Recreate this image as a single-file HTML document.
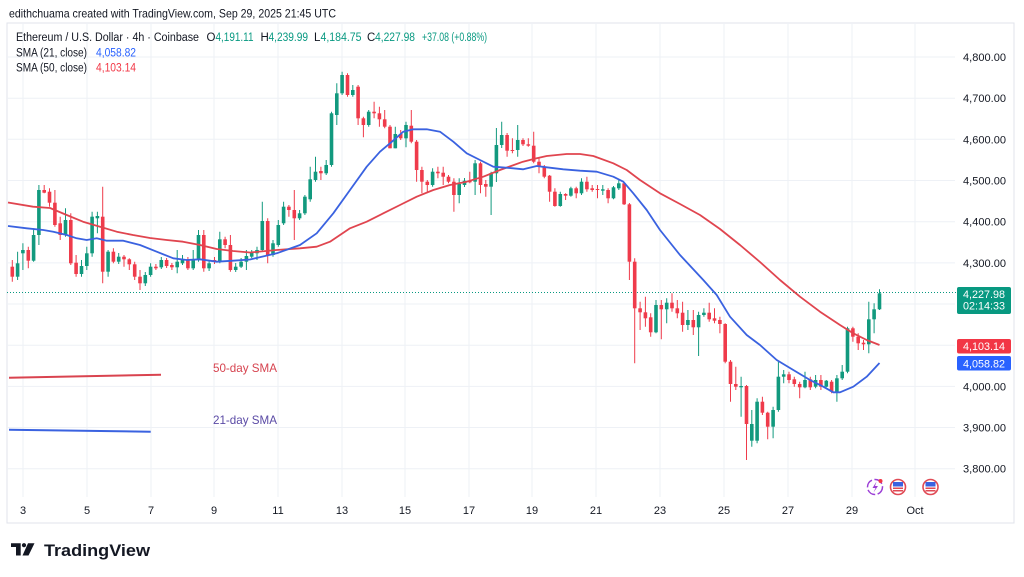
<!DOCTYPE html>
<html><head><meta charset="utf-8"><style>
html,body{margin:0;padding:0;background:#fff;}
svg{display:block;font-family:"Liberation Sans",Arial,sans-serif;}
</style></head><body>
<svg width="1024" height="577" viewBox="0 0 1024 577" xmlns="http://www.w3.org/2000/svg">
<rect width="1024" height="577" fill="#fff"/>
<text x="9" y="17.5" font-size="12" fill="#131722" textLength="327" lengthAdjust="spacingAndGlyphs">edithchuama created with TradingView.com, Sep 29, 2025 21:45 UTC</text>
<rect x="7" y="23" width="1007" height="500" fill="#fff" stroke="#e0e3eb" stroke-width="1"/>
<g stroke="#eef1f6" stroke-width="1">
<path d="M7 57H955M7 98.2H955M7 139.3H955M7 180.5H955M7 221.7H955M7 262.9H955M7 304H955M7 345.2H955M7 386.4H955M7 427.5H955M7 468.7H955"/>
<path d="M23 23V497M87 23V497M151 23V497M214 23V497M278 23V497M342 23V497M405 23V497M469 23V497M532 23V497M596 23V497M660 23V497M724 23V497M788 23V497M852 23V497M915 23V497"/>
</g>
<line x1="7" y1="292.5" x2="957" y2="292.5" stroke="#089981" stroke-width="1" stroke-dasharray="1 2"/>
<g stroke="#12997e" stroke-width="1" fill="none">
<path d="M17.6 251.7V280M22.9 243.3V270M33.6 228.3V261.7M38.9 185V245M65.5 208.3V236.7M81.5 260V276.7M86.8 246.7V270M92.1 211.7V256.7M97.4 211.7V233.3M108.1 250V276.7M118.7 253V264M145.3 272V286M150.6 263.3V276.7M161.3 257V269M177.2 250V273.3M182.5 255V265M193.2 250V270M198.5 230V261.7M209.1 260V271M219.8 231.7V263.3M235.7 263V272M241.1 258V268M246.4 250V270M251.7 250V258M257 246.7V260M262.3 201.7V251.7M273 240V256.7M278.3 220V246.7M283.6 201.7V225M299.6 210V220M304.9 195V215M310.2 166.7V201.7M315.5 156.7V181.7M326.2 160V175M331.5 111.7V166.7M336.8 83.3V125M342.1 71.7V95M352.8 85V96.7M368.7 110V126.7M395.3 126.7V148.3M406 121.7V147.3M432.6 168.3V186.7M459.2 178.3V203.3M464.5 178V187M475.1 160V195M491.1 171.7V215M496.4 128V182M501.7 121.7V148M517.7 125V156.7M560.3 191.7V206.7M570.9 186.7V196.7M581.5 178.3V195M602.8 185V195M613.5 186V199.3M618.8 180V190M656 300V333.3M666.7 298.3V323.3M687.9 310V330M698.6 311.7V356M703.9 308.3V316.7M741.1 376.7V416.7M751.8 410V446.7M757.1 398.3V443.3M773.1 406.7V438.3M778.4 361.7V411.7M783.7 370V383.3M805 371.7V388.3M815.6 375V388.3M826.3 380V387.3M836.9 375V401.7M842.2 365V380M847.5 326.7V373.3M868.8 301.7V353.3M874.1 303.3V333.3M879.5 289.3V310"/>
</g>
<g fill="#12997e">
<rect x="15.8" y="263.3" width="3.6" height="13.4"/><rect x="21.1" y="250" width="3.6" height="3.3"/><rect x="31.8" y="235" width="3.6" height="25.7"/><rect x="37.1" y="190" width="3.6" height="45"/><rect x="63.7" y="220" width="3.6" height="15"/><rect x="79.7" y="266" width="3.6" height="8"/><rect x="85" y="253.3" width="3.6" height="12.7"/><rect x="90.3" y="216.7" width="3.6" height="36.6"/><rect x="95.6" y="216" width="3.6" height="2.3"/><rect x="106.3" y="251.7" width="3.6" height="20"/><rect x="116.9" y="256.7" width="3.6" height="5"/><rect x="143.5" y="275" width="3.6" height="8.3"/><rect x="148.8" y="266.7" width="3.6" height="8.3"/><rect x="159.5" y="260" width="3.6" height="7.3"/><rect x="175.4" y="261.7" width="3.6" height="5.6"/><rect x="180.7" y="259.3" width="3.6" height="4"/><rect x="191.4" y="259.3" width="3.6" height="9"/><rect x="196.7" y="235" width="3.6" height="25"/><rect x="207.3" y="263.3" width="3.6" height="5"/><rect x="218" y="239.3" width="3.6" height="22.4"/><rect x="233.9" y="266.7" width="3.6" height="3.3"/><rect x="239.3" y="261.7" width="3.6" height="5"/><rect x="244.6" y="256" width="3.6" height="5.7"/><rect x="249.9" y="252.7" width="3.6" height="4"/><rect x="255.2" y="250" width="3.6" height="3.3"/><rect x="260.5" y="221" width="3.6" height="29"/><rect x="271.2" y="243.3" width="3.6" height="11.7"/><rect x="276.5" y="225" width="3.6" height="20"/><rect x="281.8" y="206.7" width="3.6" height="16.6"/><rect x="297.8" y="213.3" width="3.6" height="5"/><rect x="303.1" y="196.7" width="3.6" height="16.6"/><rect x="308.4" y="179.3" width="3.6" height="20"/><rect x="313.7" y="171.7" width="3.6" height="8.3"/><rect x="324.4" y="165" width="3.6" height="8.3"/><rect x="329.7" y="113.3" width="3.6" height="51.7"/><rect x="335" y="93.3" width="3.6" height="21.7"/><rect x="340.3" y="75" width="3.6" height="18.3"/><rect x="351" y="90" width="3.6" height="5"/><rect x="366.9" y="111.7" width="3.6" height="13.3"/><rect x="393.5" y="134" width="3.6" height="14.3"/><rect x="404.2" y="125" width="3.6" height="13.3"/><rect x="430.8" y="171.7" width="3.6" height="13.3"/><rect x="457.4" y="184" width="3.6" height="11"/><rect x="462.7" y="180.7" width="3.6" height="4.3"/><rect x="473.3" y="163.3" width="3.6" height="18.4"/><rect x="489.3" y="173.3" width="3.6" height="13.4"/><rect x="494.6" y="145" width="3.6" height="28.3"/><rect x="499.9" y="135" width="3.6" height="10"/><rect x="515.9" y="140" width="3.6" height="10"/><rect x="558.5" y="194" width="3.6" height="12"/><rect x="569.1" y="188.3" width="3.6" height="7.4"/><rect x="579.7" y="181.7" width="3.6" height="11.6"/><rect x="601" y="189.3" width="3.6" height="1.4"/><rect x="611.7" y="187.3" width="3.6" height="11"/><rect x="617" y="183.3" width="3.6" height="5"/><rect x="654.2" y="305" width="3.6" height="27.3"/><rect x="664.9" y="302.7" width="3.6" height="6.6"/><rect x="686.1" y="320" width="3.6" height="5"/><rect x="696.8" y="315" width="3.6" height="12.3"/><rect x="702.1" y="312.7" width="3.6" height="2.3"/><rect x="739.3" y="386" width="3.6" height="1.3"/><rect x="750" y="424" width="3.6" height="16.7"/><rect x="755.3" y="401.7" width="3.6" height="39"/><rect x="771.3" y="410" width="3.6" height="16.7"/><rect x="776.6" y="376.7" width="3.6" height="33.3"/><rect x="781.9" y="374.3" width="3.6" height="2.4"/><rect x="803.2" y="380" width="3.6" height="7.3"/><rect x="813.8" y="380" width="3.6" height="6.7"/><rect x="824.5" y="380.7" width="3.6" height="6"/><rect x="835.1" y="378.3" width="3.6" height="13.4"/><rect x="840.4" y="371.7" width="3.6" height="6.6"/><rect x="845.7" y="328.3" width="3.6" height="43.4"/><rect x="867" y="319.3" width="3.6" height="25"/><rect x="872.3" y="309.3" width="3.6" height="10"/><rect x="877.7" y="293.3" width="3.6" height="16"/>
</g>
<g stroke="#ef3b4b" stroke-width="1" fill="none">
<path d="M12.3 260V281.7M28.3 246.7V268.3M44.2 185V193.3M49.5 188.3V206.7M54.9 190V226.7M60.2 216.7V240M70.8 213.3V265M76.1 255V276.7M102.7 186.7V283.3M113.4 248.3V263.3M124 255V266.7M129.3 258.3V270M134.7 261.7V280M140 270V290M155.9 264V270M166.6 258V268M171.9 263V270M187.9 257V270M203.8 230V271.7M214.5 257V264M225.1 236.7V248.3M230.4 235V271.7M267.7 218.3V263.3M288.9 205V216.7M294.3 190V240M320.9 166.7V180M347.5 73.3V96.7M358.1 85V125M363.4 116.7V137.3M374.1 101.7V118.3M379.4 106.7V126.7M384.7 110V128.3M390 125V148.3M400.7 130V140M411.3 110V143.3M416.6 140V181.7M421.9 166.7V193.3M427.3 180V191.7M437.9 166.7V178.3M443.2 166.7V185M448.5 175V183.3M453.9 178.3V211.7M469.8 171.7V183.3M480.5 161.7V193.3M485.8 180V196.7M507.1 133V156.7M512.4 138.3V153.3M523 138.3V146M528.3 138.3V146.7M533.7 131.7V163.3M539 158.3V173.3M544.3 165V178.3M549.6 175V201.7M554.9 188.3V206.7M565.6 193.3V200M576.2 186.7V198.3M586.9 176.7V191.7M592.2 185V191.7M597.5 185V198.3M608.1 188.3V203.3M624.1 182.7V205M629.4 203V280M634.7 258.3V363.3M640.1 301.7V330M645.4 296.7V326.7M650.7 313.3V336.7M661.3 300V339.3M672 293.3V311.7M677.3 300V318.3M682.6 301.7V331.7M693.3 310V335M709.2 302.7V321.7M714.5 308.3V323.3M719.9 316.7V333.3M725.2 323.3V363.3M730.5 360V401.7M735.8 366.7V390M746.5 385V460M762.4 396.7V415M767.7 411.7V439.3M789 371.7V383.3M794.3 376.7V386.7M799.7 381.7V398.3M810.3 376.7V390M820.9 375V390M831.6 380V393.3M852.9 326.7V341.7M858.2 333.3V350M863.5 340V350"/>
</g>
<g fill="#ef3b4b">
<rect x="10.5" y="266.7" width="3.6" height="10"/><rect x="26.5" y="250" width="3.6" height="10.7"/><rect x="42.4" y="190" width="3.6" height="2.7"/><rect x="47.7" y="191.7" width="3.6" height="11"/><rect x="53.1" y="202.7" width="3.6" height="22.3"/><rect x="58.4" y="223.3" width="3.6" height="11.7"/><rect x="69" y="220" width="3.6" height="43.3"/><rect x="74.3" y="262.7" width="3.6" height="11.3"/><rect x="100.9" y="216.7" width="3.6" height="55"/><rect x="111.6" y="251.7" width="3.6" height="10"/><rect x="122.2" y="256.7" width="3.6" height="2.6"/><rect x="127.5" y="259.3" width="3.6" height="5"/><rect x="132.9" y="264.3" width="3.6" height="12.4"/><rect x="138.2" y="276.7" width="3.6" height="6.6"/><rect x="154.1" y="266.7" width="3.6" height="1.6"/><rect x="164.8" y="260" width="3.6" height="6"/><rect x="170.1" y="265" width="3.6" height="2.3"/><rect x="186.1" y="259.3" width="3.6" height="9"/><rect x="202" y="235" width="3.6" height="33.3"/><rect x="212.7" y="260" width="3.6" height="1.7"/><rect x="223.3" y="239.3" width="3.6" height="5.7"/><rect x="228.6" y="245" width="3.6" height="25"/><rect x="265.9" y="221" width="3.6" height="34"/><rect x="287.1" y="206.7" width="3.6" height="3.3"/><rect x="292.5" y="210" width="3.6" height="8.3"/><rect x="319.1" y="171" width="3.6" height="2.3"/><rect x="345.7" y="75" width="3.6" height="20"/><rect x="356.3" y="86.7" width="3.6" height="31.6"/><rect x="361.6" y="118.3" width="3.6" height="6.7"/><rect x="372.3" y="111.7" width="3.6" height="1.6"/><rect x="377.6" y="113.3" width="3.6" height="6"/><rect x="382.9" y="119.3" width="3.6" height="7.4"/><rect x="388.2" y="126.7" width="3.6" height="21.6"/><rect x="398.9" y="134" width="3.6" height="4.3"/><rect x="409.5" y="125.7" width="3.6" height="16"/><rect x="414.8" y="141.7" width="3.6" height="28.3"/><rect x="420.1" y="170" width="3.6" height="11.7"/><rect x="425.5" y="181.7" width="3.6" height="3.3"/><rect x="436.1" y="171.7" width="3.6" height="1.6"/><rect x="441.4" y="172.7" width="3.6" height="4"/><rect x="446.7" y="176.7" width="3.6" height="5"/><rect x="452.1" y="181.7" width="3.6" height="13.3"/><rect x="468" y="180.7" width="3.6" height="1.6"/><rect x="478.7" y="163.3" width="3.6" height="21.7"/><rect x="484" y="184" width="3.6" height="2.7"/><rect x="505.3" y="135" width="3.6" height="15.7"/><rect x="510.6" y="150" width="3.6" height="1"/><rect x="521.2" y="140" width="3.6" height="4.3"/><rect x="526.5" y="144.3" width="3.6" height="1.4"/><rect x="531.9" y="145.7" width="3.6" height="16"/><rect x="537.2" y="161.7" width="3.6" height="5"/><rect x="542.5" y="166.7" width="3.6" height="10"/><rect x="547.8" y="175.7" width="3.6" height="16"/><rect x="553.1" y="191.7" width="3.6" height="14.3"/><rect x="563.8" y="194" width="3.6" height="1.7"/><rect x="574.4" y="188.3" width="3.6" height="5"/><rect x="585.1" y="181.7" width="3.6" height="7.6"/><rect x="590.4" y="188.3" width="3.6" height="1.7"/><rect x="595.7" y="189" width="3.6" height="1"/><rect x="606.3" y="190" width="3.6" height="8.3"/><rect x="622.3" y="183.3" width="3.6" height="21"/><rect x="627.6" y="204.3" width="3.6" height="57.4"/><rect x="632.9" y="261.7" width="3.6" height="46.6"/><rect x="638.3" y="308.3" width="3.6" height="4"/><rect x="643.6" y="312.3" width="3.6" height="6"/><rect x="648.9" y="317.3" width="3.6" height="15"/><rect x="659.5" y="305" width="3.6" height="4.3"/><rect x="670.2" y="302.7" width="3.6" height="5.6"/><rect x="675.5" y="308.3" width="3.6" height="5"/><rect x="680.8" y="312.7" width="3.6" height="12.3"/><rect x="691.5" y="320" width="3.6" height="7.3"/><rect x="707.4" y="312.7" width="3.6" height="6.6"/><rect x="712.7" y="318.3" width="3.6" height="2.4"/><rect x="718.1" y="320" width="3.6" height="4"/><rect x="723.4" y="324" width="3.6" height="37.7"/><rect x="728.7" y="361.7" width="3.6" height="22.3"/><rect x="734" y="384" width="3.6" height="2.7"/><rect x="744.7" y="386" width="3.6" height="38"/><rect x="760.6" y="401.7" width="3.6" height="11"/><rect x="765.9" y="412.7" width="3.6" height="14"/><rect x="787.2" y="374.3" width="3.6" height="5.7"/><rect x="792.5" y="379.3" width="3.6" height="4.7"/><rect x="797.9" y="384" width="3.6" height="3.3"/><rect x="808.5" y="379.3" width="3.6" height="8"/><rect x="819.1" y="380" width="3.6" height="6.7"/><rect x="829.8" y="381.7" width="3.6" height="10"/><rect x="851.1" y="328.3" width="3.6" height="8.4"/><rect x="856.4" y="336.7" width="3.6" height="6.6"/><rect x="861.7" y="342.7" width="3.6" height="1.6"/>
</g>
<polyline fill="none" stroke="#e0454f" stroke-width="1.8" stroke-linejoin="round" points="8,202.5 33,206.7 50,208 66.7,215 83,221.7 100,226.7 116.7,231.7 133,235 150,238 166.7,240 183,241.7 200,245 216.7,249 233,251 250,252.5 276.7,250 300,248.3 316.7,246.7 330,241.7 350,228.3 366.7,221.7 383.3,213.3 400,205 416.7,196.7 433.3,190 450,185 466.7,181.7 483.3,176.7 500,170 523,161.7 536.7,158.3 546.7,156 566.7,154 580,154 593.3,156 613.3,163.3 626.7,170 640,180 660,193.3 680,204 700,215 720,229 740,245 760,262 780,280 800,296.7 820,311.7 840,325 853.3,333.3 866.7,340 879.5,345"/>
<polyline fill="none" stroke="#3a62e0" stroke-width="1.8" stroke-linejoin="round" points="8,226 26.7,228.3 43.3,230 53.3,231.7 66.7,235 76.7,238.3 86.7,240 96.7,238.3 106.7,240.7 123.3,240.7 140,245 156.7,251.7 173.3,258.3 186.7,260 200,259.3 216.7,261.7 233.3,260.7 250,259.5 276.7,253.3 300,245 316.7,233.3 333.3,213.3 350,190 366.7,166.7 380,151.7 390,143.3 403.3,131.7 413.3,129.3 426.7,129.3 440,131.7 453.3,141.7 466.7,153.3 480,160 493.3,166.7 513.3,168.3 523.3,169.3 536.7,166 546.7,167.3 563.3,169.3 580,170.7 596.7,171.7 613.3,176.7 623.3,181.7 633.3,193.3 646.7,210 660,230 680,255 703.3,280 716.7,295 730,316.7 746.7,335 760,345 776.7,360 793.3,370 810,380 823.3,386.7 833.3,392.3 840,392.3 853.3,386.7 866.7,376.7 879.5,363"/>
<line x1="9" y1="377.7" x2="161" y2="374.7" stroke="#d9434f" stroke-width="2"/>
<line x1="9" y1="429.7" x2="150.7" y2="431.7" stroke="#3a62e0" stroke-width="2"/>
<text x="213" y="372" font-size="12" fill="#d6434f" textLength="64" lengthAdjust="spacingAndGlyphs">50-day SMA</text>
<text x="213" y="424" font-size="12" fill="#5a4aa5" textLength="64" lengthAdjust="spacingAndGlyphs">21-day SMA</text>
<g font-size="11.5" fill="#131722">
<text x="16" y="41" textLength="183" lengthAdjust="spacingAndGlyphs">Ethereum / U.S. Dollar · 4h · Coinbase</text>
<text x="206.5" y="41">O</text><text x="215.5" y="41" fill="#089981" textLength="38" lengthAdjust="spacingAndGlyphs">4,191.11</text>
<text x="260.5" y="41">H</text><text x="268.5" y="41" fill="#089981" textLength="39.5" lengthAdjust="spacingAndGlyphs">4,239.99</text>
<text x="314" y="41">L</text><text x="320.5" y="41" fill="#089981" textLength="41" lengthAdjust="spacingAndGlyphs">4,184.75</text>
<text x="367" y="41">C</text><text x="375" y="41" fill="#089981" textLength="40" lengthAdjust="spacingAndGlyphs">4,227.98</text>
<text x="422" y="41" fill="#089981" textLength="65" lengthAdjust="spacingAndGlyphs">+37.08 (+0.88%)</text>
<text x="16" y="56.3" textLength="71" lengthAdjust="spacingAndGlyphs">SMA (21, close)</text><text x="96" y="56.3" fill="#2962ff" textLength="40" lengthAdjust="spacingAndGlyphs">4,058.82</text>
<text x="16" y="71.7" textLength="71" lengthAdjust="spacingAndGlyphs">SMA (50, close)</text><text x="96" y="71.7" fill="#f23645" textLength="40" lengthAdjust="spacingAndGlyphs">4,103.14</text>
</g>
<g font-size="11" fill="#131722" text-anchor="end">
<text x="1006" y="61" textLength="43" lengthAdjust="spacingAndGlyphs">4,800.00</text>
<text x="1006" y="102.2" textLength="43" lengthAdjust="spacingAndGlyphs">4,700.00</text>
<text x="1006" y="143.3" textLength="43" lengthAdjust="spacingAndGlyphs">4,600.00</text>
<text x="1006" y="184.5" textLength="43" lengthAdjust="spacingAndGlyphs">4,500.00</text>
<text x="1006" y="225.7" textLength="43" lengthAdjust="spacingAndGlyphs">4,400.00</text>
<text x="1006" y="266.9" textLength="43" lengthAdjust="spacingAndGlyphs">4,300.00</text>
<text x="1006" y="390.4" textLength="43" lengthAdjust="spacingAndGlyphs">4,000.00</text>
<text x="1006" y="431.5" textLength="43" lengthAdjust="spacingAndGlyphs">3,900.00</text>
<text x="1006" y="472.7" textLength="43" lengthAdjust="spacingAndGlyphs">3,800.00</text>
</g>
<rect x="957" y="287" width="54" height="27" rx="2" fill="#089981"/>
<rect x="957" y="339" width="54" height="14.5" rx="2" fill="#f23645"/>
<rect x="957" y="356" width="54" height="14.5" rx="2" fill="#2962ff"/>
<g font-size="11" fill="#fff" text-anchor="middle">
<text x="984" y="298" textLength="42" lengthAdjust="spacingAndGlyphs">4,227.98</text>
<text x="984" y="309.5" textLength="42" lengthAdjust="spacingAndGlyphs">02:14:33</text>
<text x="984" y="350" textLength="42" lengthAdjust="spacingAndGlyphs">4,103.14</text>
<text x="984" y="367.3" textLength="42" lengthAdjust="spacingAndGlyphs">4,058.82</text>
</g>
<g font-size="11" fill="#131722" text-anchor="middle">
<text x="23" y="514">3</text><text x="87" y="514">5</text><text x="151" y="514">7</text><text x="214" y="514">9</text><text x="278" y="514">11</text><text x="342" y="514">13</text><text x="405" y="514">15</text><text x="469" y="514">17</text><text x="532" y="514">19</text><text x="596" y="514">21</text><text x="660" y="514">23</text><text x="724" y="514">25</text><text x="788" y="514">27</text><text x="852" y="514">29</text><text x="915" y="514">Oct</text>
</g>
<g>
<circle cx="875" cy="487" r="7.5" fill="#fff" stroke="#9c3fd6" stroke-width="1.5" stroke-dasharray="9 2.5"/>
<path d="M876.5 481.5L872.5 488H875.5L873.5 492.5L878 486H875Z" fill="#9c3fd6"/>
<circle cx="880.5" cy="481" r="2" fill="#f23645"/>
<circle cx="898" cy="487" r="7.5" fill="#fff" stroke="#e04a55" stroke-width="1.6"/>
<rect x="893" y="482" width="10" height="4.5" fill="#3a62e0"/>
<rect x="893" y="487.5" width="10" height="1.5" fill="#e04a55"/>
<rect x="893" y="490" width="10" height="1.5" fill="#e04a55"/>
<circle cx="930.5" cy="487" r="7.5" fill="#fff" stroke="#e04a55" stroke-width="1.6"/>
<rect x="925.5" y="482" width="10" height="4.5" fill="#3a62e0"/>
<rect x="925.5" y="487.5" width="10" height="1.5" fill="#e04a55"/>
<rect x="925.5" y="490" width="10" height="1.5" fill="#e04a55"/>
</g>
<g fill="#131722">
<path d="M11 543.3H20.7V555.5H16V547H11Z"/>
<circle cx="24" cy="545.2" r="2.1"/>
<path d="M28 543.3H34.5L28.5 555.5H22.5Z"/>
<text x="44" y="556" font-size="17" font-weight="bold" textLength="106" lengthAdjust="spacingAndGlyphs">TradingView</text>
</g>
</svg>
</body></html>
